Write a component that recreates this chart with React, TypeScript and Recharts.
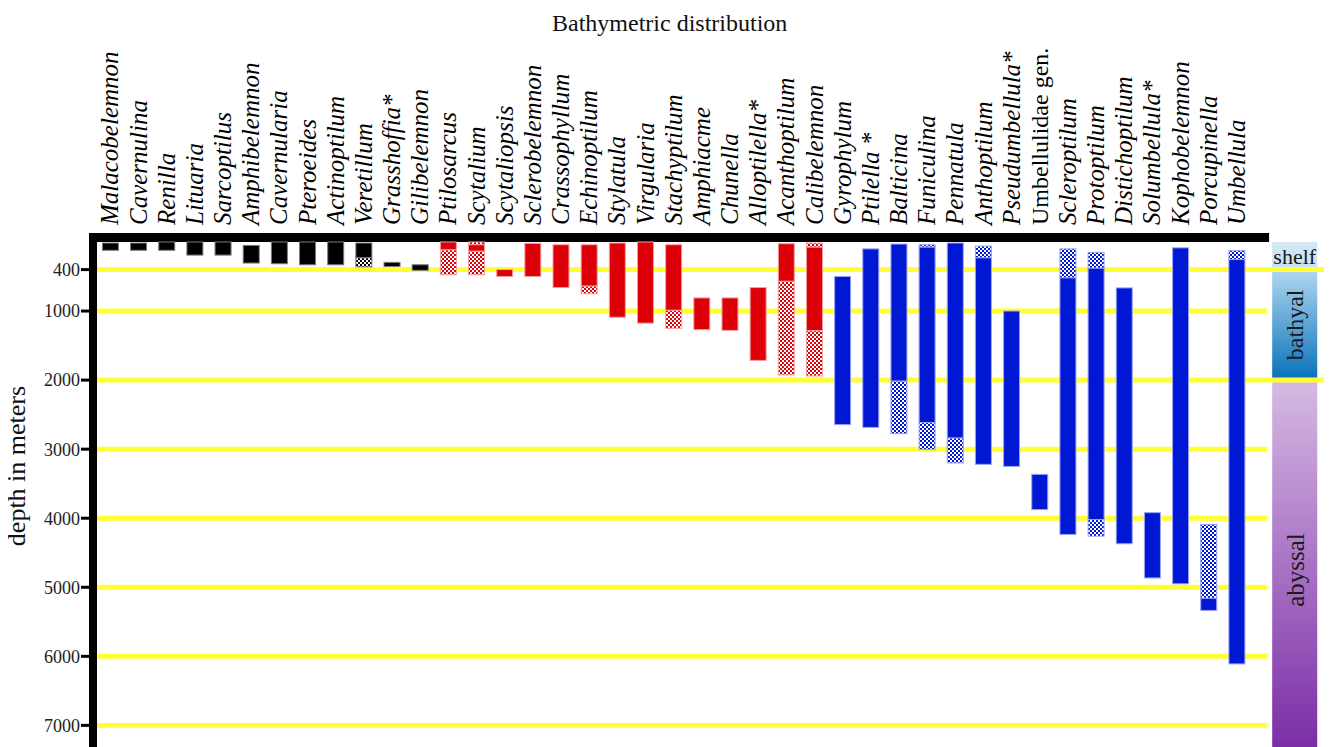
import { BarChart, Bar, XAxis, YAxis, ReferenceArea } from "recharts";

const genera = [
  "Malacobelemnon", "Cavernulina", "Renilla", "Lituaria", "Sarcoptilus", "Amphibelemnon",
  "Cavernularia", "Pteroeides", "Actinoptilum", "Veretillum", "Grasshoffia*", "Gilibelemnon",
  "Ptilosarcus", "Scytalium", "Scytaliopsis", "Sclerobelemnon", "Crassophyllum", "Echinoptilum",
  "Stylatula", "Virgularia", "Stachyptilum", "Amphiacme", "Chunella", "Alloptilella*",
  "Acanthoptilum", "Calibelemnon", "Gyrophylum", "Ptilella *", "Balticina", "Funiculina",
  "Pennatula", "Anthoptilum", "Pseudumbellula*", "Umbellulidae gen.", "Scleroptilum",
  "Protoptilum", "Distichoptilum", "Solumbellula*", "Kophobelemnon", "Porcupinella", "Umbellula",
];

// 0 = shelf group (black), 1 = mid group (red), 2 = deep group (blue)
const group = [
  0, 0, 0, 0, 0, 0, 0, 0, 0, 0, 0, 0,
  1, 1, 1, 1, 1, 1, 1, 1, 1, 1, 1, 1, 1, 1,
  2, 2, 2, 2, 2, 2, 2, 2, 2, 2, 2, 2, 2, 2, 2,
];

// depths in metres: full range (incl. uncertain part) and confirmed range
const rangeTop = [
  15, 15, 0, 0, 0, 50, 0, 0, 0, 15, 295, 330,
  0, 0, 400, 20, 40, 40, 15, 0, 40, 810, 810, 660, 25, 15,
  500, 100, 30, 40, 15, 60, 1000, 3365, 100, 150, 665, 3920, 85, 4090, 125,
];
const solidTop = [
  15, 15, 0, 0, 0, 50, 0, 0, 0, 15, 295, 330,
  0, 40, 400, 20, 40, 40, 15, 0, 40, 810, 810, 660, 25, 75,
  500, 100, 30, 75, 15, 230, 1000, 3365, 520, 380, 665, 3920, 85, 5160, 255,
];
const solidBottom = [
  120, 120, 120, 190, 190, 305, 315, 330, 330, 230, 355, 410,
  115, 135, 500, 500, 660, 640, 1090, 1175, 990, 1270, 1280, 1715, 570, 1285,
  2645, 2685, 2015, 2615, 2840, 3220, 3250, 3875, 4235, 4020, 4370, 4865, 4950, 5335, 6110,
];
const rangeBottom = [
  120, 120, 120, 190, 190, 305, 315, 330, 330, 360, 355, 410,
  475, 475, 500, 500, 660, 750, 1090, 1175, 1250, 1270, 1280, 1715, 1925, 1940,
  2645, 2685, 2775, 3005, 3200, 3220, 3250, 3875, 4235, 4260, 4370, 4865, 4950, 5335, 6110,
];

const depthTicks = [400, 1000, 2000, 3000, 4000, 5000, 6000, 7000];
const zoneNames = ["shelf", "bathyal", "abyssal"];
const zoneLimits = [0, 400, 2000, 7400];

const groupColors = ["#000000", "#dd0008", "#0018d4"];
const groupEdges = ["#7a7a7a", "#f2a0a0", "#9aa2f2"];
const SERIF = "'Liberation Serif', 'Times New Roman', serif";

const X_MIN = -0.621;
const X_MAX = 43.09;
const GRID_END = 41.07;
const TOP_END = 41.14;
const BAND_X1 = 41.25;
const BAND_X2 = 42.85;
const GRID_HALF = 36; // half of a 5px yellow rule, in metres

const rows = genera.map((g, i) => ({
  idx: i,
  genus: g,
  group: group[i],
  offset: rangeTop[i],
  hatchUpper: solidTop[i] - rangeTop[i],
  solid: solidBottom[i] - solidTop[i],
  hatchLower: rangeBottom[i] - solidBottom[i],
}));

function makeShape(hatched: boolean) {
  return (p: any) => {
    const h = Math.abs(p.height);
    if (!h || h < 0.3) return <g />;
    const y = p.height < 0 ? p.y + p.height : p.y;
    const g = p.payload.group;
    return (
      <rect
        x={p.x}
        y={y}
        width={p.width}
        height={h}
        fill={hatched ? `url(#hatch${g})` : groupColors[g]}
        stroke={groupEdges[g]}
        strokeWidth={1}
      />
    );
  };
}

function GenusTick(props: any) {
  const { x, payload } = props;
  const name = genera[payload.value];
  if (!name) return <g />;
  const upright = name === "Umbellulidae gen.";
  return (
    <text
      transform={`translate(${x + 8},217) rotate(-90)`}
      fontFamily={SERIF}
      fontSize={upright ? 24 : 25}
      fontStyle={upright ? "normal" : "italic"}
      fill="#000"
    >
      {name}
    </text>
  );
}

const depthTitle = () => (
  <text
    transform="translate(17,458) rotate(-90)"
    textAnchor="middle"
    fontFamily={SERIF}
    fontSize={26}
    fill="#111"
  >
    depth in meters
  </text>
);

export default function App() {
  return (
    <div style={{ position: "relative", width: 1320, height: 739, overflow: "hidden" }}>
      <svg width={0} height={0} style={{ position: "absolute" }}>
        <defs>
          {groupColors.map((c, i) => (
            <pattern key={i} id={`hatch${i}`} width={4} height={4} patternUnits="userSpaceOnUse">
              <rect width={4} height={4} fill="#ffffff" />
              <rect width={2} height={2} fill={c} />
              <rect x={2} y={2} width={2} height={2} fill={c} />
            </pattern>
          ))}
          <linearGradient id="zone0" x1="0" y1="0" x2="0" y2="1">
            <stop offset="0%" stopColor="#d3e9f5" />
            <stop offset="100%" stopColor="#c6e2f2" />
          </linearGradient>
          <linearGradient id="zone1" x1="0" y1="0" x2="0" y2="1">
            <stop offset="0%" stopColor="#b0d8f0" />
            <stop offset="100%" stopColor="#0870ba" />
          </linearGradient>
          <linearGradient id="zone2" x1="0" y1="0" x2="0" y2="1">
            <stop offset="0%" stopColor="#d6bae3" />
            <stop offset="100%" stopColor="#7a2ba6" />
          </linearGradient>
        </defs>
      </svg>

      <div
        style={{
          position: "absolute",
          left: 661.7,
          top: 2.6,
          transform: "translateX(-50%)",
          fontFamily: SERIF,
          fontSize: 24,
          lineHeight: "24px",
          whiteSpace: "nowrap",
          color: "#111",
        }}
      >
        Bathymetric distribution
      </div>

      <BarChart
        width={1320}
        height={745}
        data={rows}
        margin={{ top: 25, right: 4, left: 0, bottom: 0 }}
        barSize={16}
      >
        <XAxis
          xAxisId={0}
          dataKey="idx"
          type="number"
          orientation="top"
          height={200}
          domain={[X_MIN, X_MAX]}
          allowDataOverflow
          ticks={genera.map((_, i) => i)}
          interval={0}
          axisLine={false}
          tickLine={false}
          tick={GenusTick}
        />
        <YAxis
          yAxisId={0}
          type="number"
          reversed
          domain={[-130, 7400]}
          allowDataOverflow
          ticks={depthTicks}
          interval={0}
          width={85}
          axisLine={{ stroke: "#000", strokeWidth: 8 }}
          tickLine={{ stroke: "#000", strokeWidth: 3 }}
          tickSize={12}
          tickMargin={1}
          tick={{ fontFamily: SERIF, fontSize: 18, fill: "#222" }}
          label={{ content: depthTitle }}
        />

        {zoneNames.map((z, i) => (
          <ReferenceArea
            key={z}
            x1={BAND_X1}
            x2={BAND_X2}
            y1={zoneLimits[i]}
            y2={zoneLimits[i + 1]}
            fill={`url(#zone${i})`}
            fillOpacity={1}
            stroke="none"
          />
        ))}

        {depthTicks.map((d) => (
          <ReferenceArea
            key={d}
            x1={X_MIN}
            x2={d === 400 || d === 2000 ? X_MAX : GRID_END}
            y1={d - GRID_HALF}
            y2={d + GRID_HALF}
            fill="#ffff33"
            fillOpacity={1}
            stroke="none"
          />
        ))}

        <ReferenceArea x1={X_MIN} x2={TOP_END} y1={-130} y2={0} fill="#000" fillOpacity={1} stroke="none" />

        <ReferenceArea
          x1={BAND_X1}
          x2={BAND_X2}
          y1={zoneLimits[0]}
          y2={zoneLimits[1]}
          fill="none"
          stroke="none"
          label={{ value: zoneNames[0], position: "center", fontFamily: SERIF, fontSize: 22, fill: "#1a1a1a" }}
        />
        <ReferenceArea
          x1={BAND_X1}
          x2={BAND_X2}
          y1={zoneLimits[1]}
          y2={zoneLimits[2]}
          fill="none"
          stroke="none"
          label={{ value: zoneNames[1], position: "center", angle: -90, fontFamily: SERIF, fontSize: 24, fill: "#1a1a1a" }}
        />
        <ReferenceArea
          x1={BAND_X1}
          x2={BAND_X2}
          y1={2100}
          y2={zoneLimits[3]}
          fill="none"
          stroke="none"
          label={{ value: zoneNames[2], position: "center", angle: -90, fontFamily: SERIF, fontSize: 25, fill: "#1a1a1a" }}
        />

        <Bar dataKey="offset" stackId="d" isAnimationActive={false} shape={() => <g />} />
        <Bar dataKey="hatchUpper" stackId="d" isAnimationActive={false} shape={makeShape(true)} />
        <Bar dataKey="solid" stackId="d" isAnimationActive={false} shape={makeShape(false)} />
        <Bar dataKey="hatchLower" stackId="d" isAnimationActive={false} shape={makeShape(true)} />
      </BarChart>
    </div>
  );
}
